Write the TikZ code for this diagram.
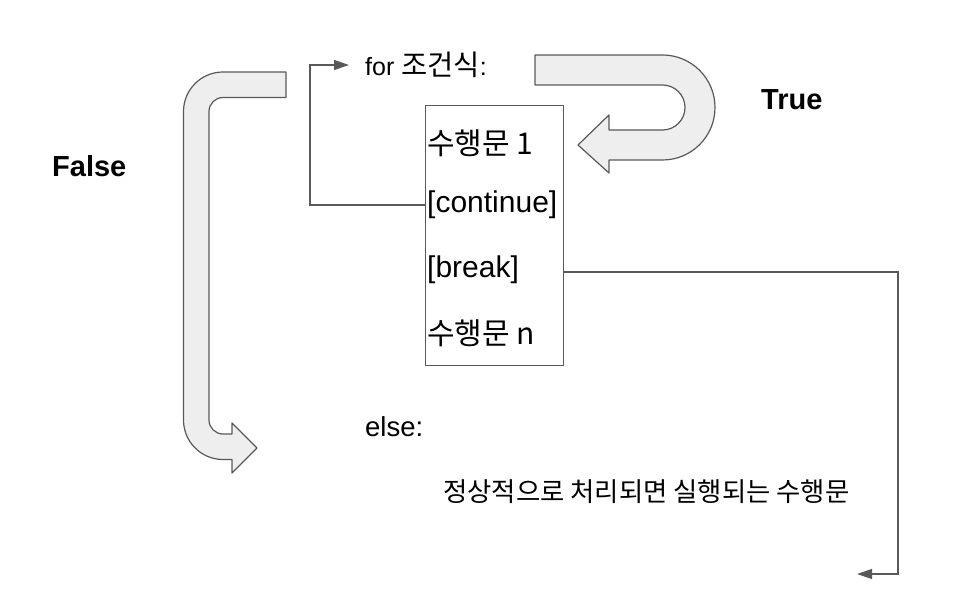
\documentclass[tikz,border=0pt]{standalone}
\usepackage{fontspec}
\setmainfont{Liberation Sans}
\newfontfamily\kr{Noto Sans CJK KR}
\usetikzlibrary{arrows.meta}
\definecolor{linegray}{HTML}{595959}
\definecolor{blockfill}{HTML}{EEEEEE}
\tikzset{
  lbl/.style={inner sep=0pt, anchor=west, font=\fontsize{25}{30}\selectfont},
  elsetxt/.style={inner sep=0pt, anchor=west, font=\fontsize{27.5}{32}\selectfont},
  boxtxt/.style={inner sep=0pt, anchor=west, font=\fontsize{30}{35}\selectfont},
  bigtxt/.style={inner sep=0pt, anchor=west, font=\bfseries\fontsize{29}{34}\selectfont},
  smalltxt/.style={inner sep=0pt, anchor=west, font=\fontsize{26.4}{31}\selectfont},
  conn/.style={draw=linegray, line width=1.3pt},
  tip/.style={-{Triangle[length=15pt,width=10pt]}},
  blockarrow/.style={draw=linegray, fill=blockfill, line width=1.2pt, line join=round}
}
\begin{document}
\begin{tikzpicture}[x=1pt,y=-1pt]
\useasboundingbox (0,0) rectangle (964,612);
% block arrows
\path[blockarrow] (535,55) -- (662.5,55) arc[start angle=-90, end angle=90, radius=52.5]
  -- (609,160) -- (609,173) -- (578,145) -- (609,115) -- (609,130) -- (662.5,130)
  arc[start angle=90, end angle=-90, radius=22.5] -- (535,85) -- cycle;
\path[blockarrow] (286,72) -- (223,72) arc[start angle=-90, end angle=-180, radius=39.5]
  -- (183.5,420) arc[start angle=180, end angle=90, radius=39.5]
  -- (232,459.5) -- (232,473) -- (257,448) -- (232,423) -- (232,434) -- (223,434)
  arc[start angle=90, end angle=180, radius=14]
  -- (209,111.5) arc[start angle=180, end angle=270, radius=14] -- (286,97.5) -- cycle;
% box
\node[draw=linegray, line width=1.2pt, minimum width=138pt, minimum height=260pt, anchor=north west, inner sep=0pt] (box) at (425,105) {};
\node[boxtxt] (s1) at (427,143) {\kr 수행문 1};
\node[boxtxt] (cont) at (427,205) {[continue]};
\node[boxtxt] (brk) at (427,270) {[break]};
\node[boxtxt] (sn) at (427,333) {\kr 수행문 n};
% texts
\node[lbl] (for) at (365,65) {for {\kr\fontsize{28.5}{33}\selectfont 조건식}:};
\node[elsetxt] (else) at (365,427) {else:};
\node[smalltxt] (normal) at (443,492) {\kr 정상적으로 처리되면 실행되는 수행문};
\node[bigtxt] (true) at (761,100) {True};
\node[bigtxt] (false) at (52,166) {False};
% connectors
\coordinate (contturn) at (310,205);
\draw[conn, tip] (box.west |- cont.west) -- (contturn) |- ([xshift=-16pt]for.west);
\coordinate (brkturn) at (898,272);
\coordinate (brkend) at (857,574);
\draw[conn, tip] (box.east |- brkturn) -- (brkturn) |- (brkend);
\end{tikzpicture}
\end{document}
